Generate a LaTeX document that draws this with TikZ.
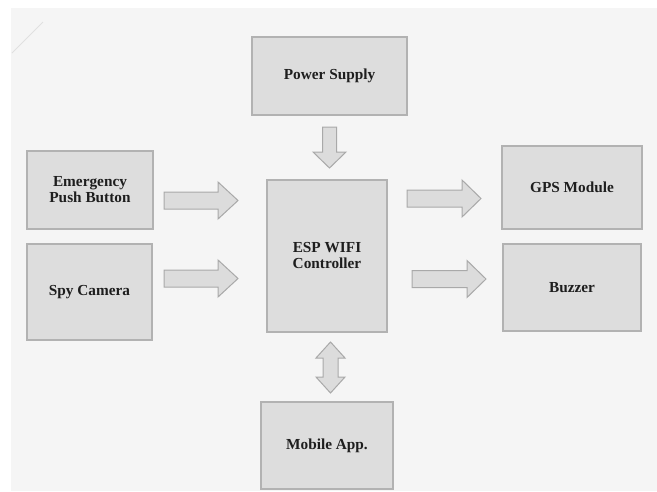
\documentclass[tikz,border=0pt]{standalone}
\usepackage{fontspec}
\setmainfont{Liberation Serif}
\definecolor{pagebg}{HTML}{F5F5F5}
\definecolor{boxfill}{HTML}{DDDDDD}
\definecolor{boxline}{HTML}{B2B2B2}
\definecolor{arrfill}{HTML}{DCDCDC}
\definecolor{arrline}{HTML}{A9A9A9}
\definecolor{txt}{HTML}{1E1E1E}
\tikzset{
  blockbox/.style={draw=boxline, fill=boxfill, line width=1.2pt},
  blocktext/.style={font=\fontsize{15.3}{16}\selectfont\bfseries, text=txt, align=center},
  blockarrow/.style={draw=arrline, fill=arrfill, line width=1pt, line join=miter},
}
\begin{document}
\begin{tikzpicture}[x=1pt,y=-1pt]
\useasboundingbox (0,0) rectangle (657,491);
\fill[white] (0,0) rectangle (657,491);
\fill[pagebg] (11,8) rectangle (657,491);
\draw[black!12, line width=0.8pt] (12,53) -- (43,22);
% boxes
\draw[blockbox] (252,37) rectangle (407,115);
\node[blocktext] (ps) at (329.5,76) {Power Supply};
\draw[blockbox] (27,151) rectangle (153,229);
\node[blocktext] (em) at (90,190) {Emergency\\Push Button};
\draw[blockbox] (27,244) rectangle (152,340);
\node[blocktext] (spy) at (89.5,292) {Spy Camera};
\draw[blockbox] (267,180) rectangle (387,332);
\node[blocktext] (esp) at (327,256) {ESP WIFI\\Controller};
\draw[blockbox] (502,146) rectangle (642,229);
\node[blocktext] (gps) at (572,187.5) {GPS Module};
\draw[blockbox] (503,244) rectangle (641,331);
\node[blocktext] (buz) at (572,287.5) {Buzzer};
\draw[blockbox] (261,402) rectangle (393,489);
\node[blocktext] (mob) at (327,445.5) {Mobile App.};
% right arrows
\newcommand\rightblock[4]{% x1, x2, yc, headlen
  \draw[blockarrow] (#1,#3-8.5) -- (#2-#4,#3-8.5) -- (#2-#4,#3-18.5) -- (#2,#3)
    -- (#2-#4,#3+18.5) -- (#2-#4,#3+8.5) -- (#1,#3+8.5) -- cycle;}
\rightblock{164}{238}{200.5}{20}
\rightblock{164}{238}{278.5}{20}
\rightblock{407}{481}{198.5}{19}
\rightblock{412}{486}{279}{19}
% down arrow
\draw[blockarrow] (322.5,127) -- (336.5,127) -- (336.5,152) -- (346,152) -- (329.5,168)
  -- (313,152) -- (322.5,152) -- cycle;
% double arrow
\draw[blockarrow] (330.5,342) -- (345,358) -- (338,358) -- (338,377) -- (345,377)
  -- (330.5,393) -- (316,377) -- (323,377) -- (323,358) -- (316,358) -- cycle;
\end{tikzpicture}
\end{document}
